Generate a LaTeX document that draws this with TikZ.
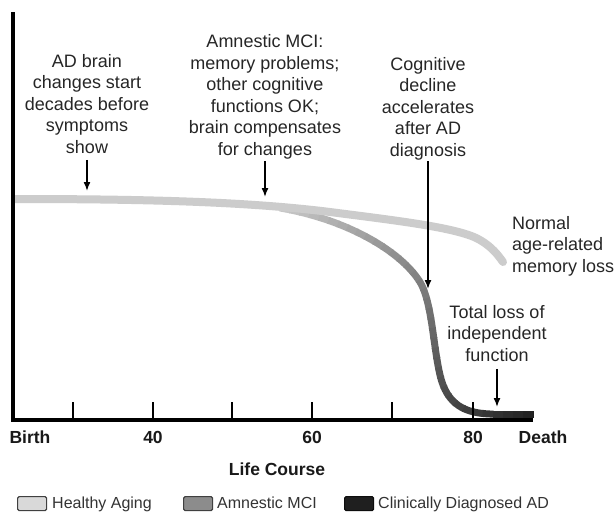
\documentclass[tikz,border=0pt]{standalone}
\usepackage{fontspec}
\setmainfont{Liberation Sans}
\usetikzlibrary{arrows.meta}
\begin{document}
\begin{tikzpicture}[x=1pt,y=-1pt,
  ann/.style={font={\fontsize{18}{21.5}\selectfont}, align=center, inner sep=0pt, text=black!85},
  axlab/.style={font={\fontsize{17.5}{21}\selectfont\bfseries}, anchor=base, inner sep=0pt, text=black!90},
  leg/.style={font={\fontsize{16}{19}\selectfont}, anchor=base west, inner sep=0pt, text=black!80},
  legbox/.style={draw=black!75, line width=1.2pt, rounded corners=1.5pt, minimum width=29pt, minimum height=14pt, inner sep=0pt, anchor=north west},
  arr/.style={line width=1.5pt, -{Latex[length=9pt,width=7pt]}},
  axisline/.style={line width=3.5pt},
  tickline/.style={line width=2.5pt}
]
\useasboundingbox[fill=white] (0,0) rectangle (616,512);

% amnestic MCI / AD curve with gradient
\foreach \i in {0,...,37} {
  \pgfmathsetmacro\myoff{10*\i}
  \pgfmathsetmacro\mydark{22+66*\i/37}
  \draw[line width=7pt, draw=black!\mydark, dash pattern=on 0pt off \myoff pt on 11pt off 3000pt]
    (280,208) .. controls (345,219) and (400,250) .. (420,282)
    .. controls (432,302) and (433,345) .. (440,375)
    .. controls (447,405) and (465,413) .. (490,414) -- (533,414);
}
% healthy aging curve
\draw[line width=8pt, draw=black!20, line cap=round]
  (15,199) .. controls (150,199) and (250,202) .. (330,212)
  .. controls (400,221) and (460,228) .. (480,240)
  .. controls (492,247) and (498,255) .. (503,262);

% axes
\coordinate (ytop) at (13,12);
\coordinate (orig) at (13,420);
\coordinate (xend) at (533,420);
\draw[axisline] (ytop) -- (orig) -- (xend);
\foreach \x in {73,153,232,312,392,473} \draw[tickline] (\x,420) -- (\x,402);

% axis labels
\node[axlab] (birth) at (30,443) {Birth};
\node[axlab] (l40) at (153,443) {40};
\node[axlab] (l60) at (312,443) {60};
\node[axlab] (l80) at (473,443) {80};
\node[axlab] (death) at (543,443) {Death};
\node[axlab] (life) at (277,475) {Life Course};

% annotations
\node[ann] (ad) at (87,104) {AD brain\\changes start\\decades before\\symptoms\\show};
\node[ann] (mci) at (265,97) {Amnestic MCI:\\memory problems;\\other cognitive\\functions OK;\\brain compensates\\for changes};
\node[ann] (cog) at (428,108.5) {Cognitive\\decline\\accelerates\\after AD\\diagnosis};
\node[ann, align=left, anchor=west] (norm) at (512,246) {Normal\\age-related\\memory loss};
\node[ann] (tot) at (497,333.5) {Total loss of\\independent\\function};

\coordinate (a1) at (87,191);
\coordinate (a2) at (265,197);
\coordinate (a3) at (428,289);
\coordinate (a4) at (497,407);
\draw[arr] ([yshift=-6pt]ad.south) -- (a1);
\draw[arr] ([yshift=-2pt]mci.south) -- (a2);
\draw[arr] ([yshift=-1pt]cog.south) -- (a3);
\draw[arr] ([yshift=-7pt]tot.south) -- (a4);

% legend
\node[legbox, fill=black!15] (lb1) at (17,496) {};
\node[leg] (lt1) at (52,508) {Healthy Aging};
\node[legbox, fill=black!45] (lb2) at (183,496) {};
\node[leg] (lt2) at (217,508) {Amnestic MCI};
\node[legbox, fill=black!88, draw=black!95] (lb3) at (344,496) {};
\node[leg] (lt3) at (378,508) {Clinically Diagnosed AD};
\end{tikzpicture}
\end{document}
